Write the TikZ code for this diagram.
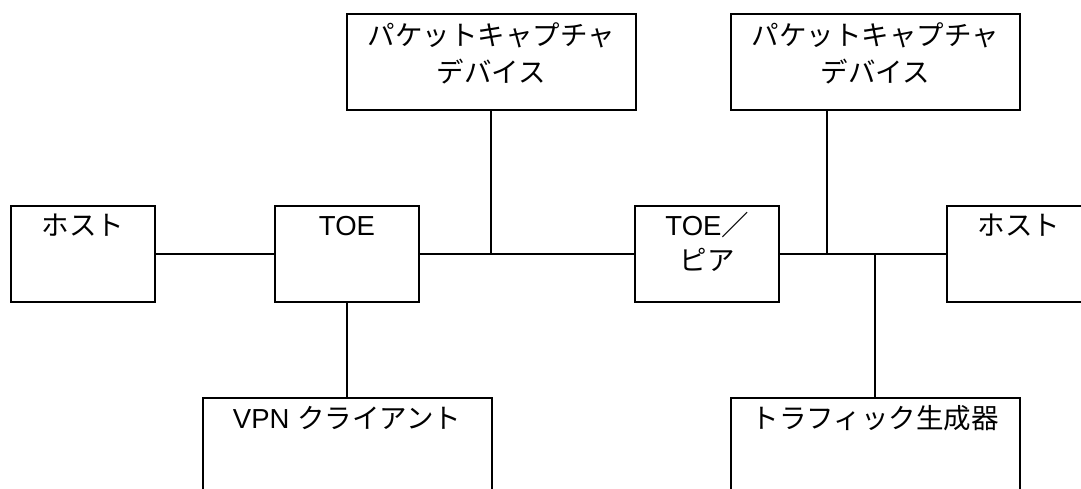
\documentclass[tikz,border=0pt]{standalone}
\usepackage{fontspec}
\setmainfont{Liberation Sans}
\newfontfamily\jp{Noto Sans CJK JP}
\usetikzlibrary{calc}
\begin{document}
\begin{tikzpicture}[x=1pt,y=-1pt,
  box/.style={draw, line width=2pt, minimum width=#1, minimum height=96pt, inner sep=0pt, anchor=center},
  lbl/.style={font=\fontsize{27.5}{37}\selectfont, inner sep=0pt, anchor=base, align=center},
  wire/.style={line width=2pt}]
\useasboundingbox (0,0) rectangle (1081,488);
\clip (0,0) rectangle (1081,488);
\fill[white] (0,0) rectangle (1081,488);
% boxes
\node[box=289pt] (cap1) at (491.2,61.9) {};
\node[box=289pt] (cap2) at (875.5,62) {};
\node[box=144pt] (host1) at (83,253.7) {};
\node[box=144pt] (toe) at (347,253.7) {};
\node[box=144pt] (peer) at (707.2,253.7) {};
\node[box=144pt] (host2) at (1019,253.7) {};
\node[box=289pt] (vpn) at (347,445.7) {};
\node[box=289pt] (traf) at (875.2,445.7) {};
% labels (base anchor = baseline of the last line)
\node[lbl] (cap1t) at ($(cap1.north)+(0,69.5)$) {\jp パケットキャプチャ\\\jp デバイス};
\node[lbl] (cap2t) at ($(cap2.north)+(0,69.5)$) {\jp パケットキャプチャ\\\jp デバイス};
\node[lbl] (host1t) at ($(host1.north)+(0,31)$) {\jp ホスト};
\node[lbl] (toet) at ($(toe.north)+(0,31)$) {TOE};
\node[lbl, font=\fontsize{27.5}{35}\selectfont] (peert) at ($(peer.north)+(0,66)$) {TOE{\jp ／}\\{\jp ピア}};
\node[lbl] (host2t) at ($(host2.north)+(0,31)$) {\jp ホスト};
\node[lbl] (vpnt) at ($(vpn.north)+(0,32)$) {VPN {\jp クライアント}};
\node[lbl] (traft) at ($(traf.north)+(0,32)$) {\jp トラフィック生成器};
% connectors
\draw[wire] (host1.east) -- (toe.west);
\draw[wire] (toe.east) -- (peer.west);
\draw[wire] (peer.east) -- (host2.west);
\draw[wire] (cap1.south) -- (cap1.south |- toe.east);
\draw[wire] (toe.south) -- (vpn.north);
\coordinate (cap2tap) at ($(cap2.south)+(-49,0)$);
\draw[wire] (cap2tap) -- (cap2tap |- peer.east);
\draw[wire] (traf.north) -- (traf.north |- peer.east);
\end{tikzpicture}
\end{document}
